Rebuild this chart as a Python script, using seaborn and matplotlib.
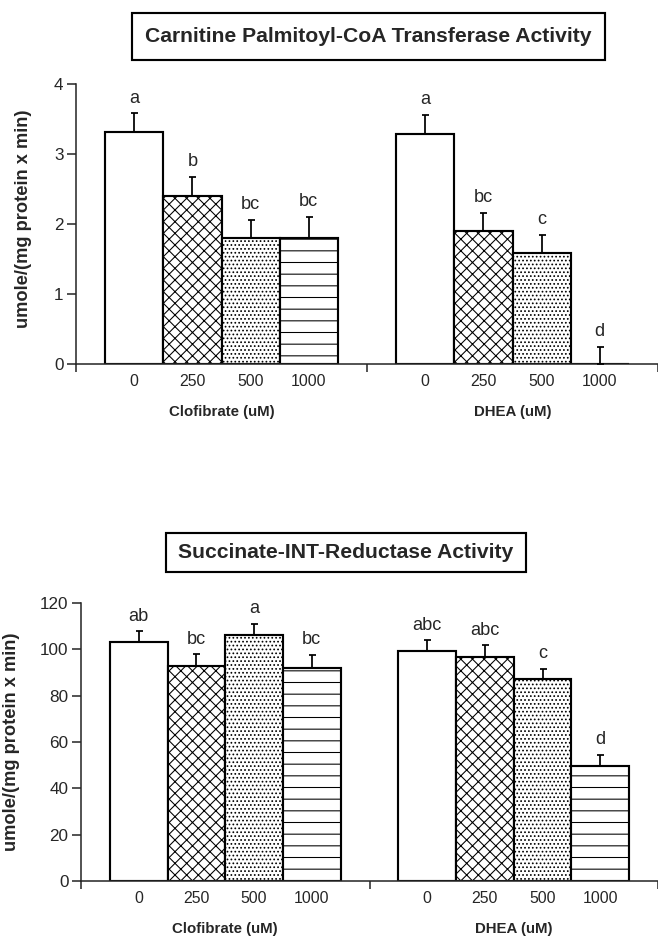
# Two enzyme activity bar charts (CPT and succinate-INT-reductase)
# clofibrate vs DHEA, redrawn with seaborn

import numpy as np
import pandas as pd
import matplotlib.pyplot as plt
from matplotlib.patches import Rectangle
import seaborn as sb

# data
conc_labels = ["0", "250", "500", "1000"]
group_labels = ["Clofibrate (uM)", "DHEA (uM)"]

cpt_mean = [3.32, 2.40, 1.80, 1.80, 3.29, 1.90, 1.59, 0.0]
cpt_err = [0.26, 0.27, 0.26, 0.30, 0.27, 0.26, 0.26, 0.25]
cpt_letters = ["a", "b", "bc", "bc", "a", "bc", "c", "d"]

sdh_mean = [103.3, 93.0, 106.3, 92.0, 99.3, 96.9, 87.1, 49.8]
sdh_err = [4.4, 4.9, 4.6, 5.6, 4.6, 4.8, 4.6, 4.8]
sdh_letters = ["ab", "bc", "a", "bc", "abc", "abc", "c", "d"]

titles = ["Carnitine Palmitoyl-CoA Transferase Activity",
          "Succinate-INT-Reductase Activity"]
ylabel = "umole/(mg protein x min)"

# fill pattern per concentration
hatches = ["", "xxxx", "......", "--"]

DPI = 140
sb.set_style("ticks")
plt.rcParams['font.family'] = ['Liberation Sans', 'DejaVu Sans']
plt.rcParams['hatch.linewidth'] = 0.55
narrow = ['Liberation Sans Narrow', 'Liberation Sans', 'DejaVu Sans']


def make_frame(means, errs):
    rows = []
    for gi, g in enumerate(group_labels):
        for ci, c in enumerate(conc_labels):
            k = gi * len(conc_labels) + ci
            rows.append({"pos": gi * 5 + ci, "group": g, "conc": c,
                         "mean": means[k], "err": errs[k]})
    return pd.DataFrame(rows)


def draw_panel(ax, df, letters, ymax, yticks):
    sb.barplot(data=df, x="pos", y="mean", native_scale=True, width=1.0,
               color="white", edgecolor="black", linewidth=1.1,
               errorbar=None, ax=ax)
    for i, bar in enumerate(ax.patches):
        bar.set_hatch(hatches[i % 4])
        bar.set_facecolor("white")
    ax.errorbar(df["pos"], df["mean"],
                yerr=[np.zeros(len(df)), df["err"]],
                fmt="none", ecolor="black", elinewidth=0.9,
                capsize=1.8, capthick=0.9, zorder=5)
    for x, top, lab in zip(df["pos"], df["mean"] + df["err"], letters):
        ax.annotate(lab, (x, top), xytext=(0, 5.5), textcoords="offset points",
                    ha="center", va="baseline", fontsize=9.3)

    ax.set_xlim(-1, 9)
    ax.set_ylim(0, ymax)
    ax.set_yticks(yticks)
    ax.set_xticks(df["pos"])
    ax.set_xticklabels([c for c in df["conc"]], fontsize=8.2)
    ax.set_xticks([-1, 4, 9], minor=True)
    ax.tick_params(axis="x", which="major", length=0, pad=5.3)
    ax.tick_params(axis="x", which="minor", length=4.2, width=0.8)
    ax.tick_params(axis="y", length=4.6, width=0.8, pad=1.8, labelsize=8.8)
    for s in ["top", "right"]:
        ax.spines[s].set_visible(False)
    for s in ["left", "bottom"]:
        ax.spines[s].set_linewidth(0.8)
    ax.set_xlabel("")
    ax.set_ylabel(ylabel, fontsize=9.4, fontweight="bold")

    # group names under the tick labels
    for gi, g in enumerate(group_labels):
        ax.annotate(g, (gi * 5 + 1.5, 0), xytext=(0, -24.5),
                    textcoords="offset points", xycoords=("data", "axes fraction"),
                    ha="center", va="center", fontsize=7.7, fontweight="bold",
                    family=narrow)


fig = plt.figure(figsize=(658 / DPI, 937 / DPI), dpi=DPI)

ax1 = fig.add_axes([76 / 658, 1 - 364 / 937, 582 / 658, 280 / 937])
draw_panel(ax1, make_frame(cpt_mean, cpt_err), cpt_letters, 4, [0, 1, 2, 3, 4])
ax1.yaxis.set_label_coords(-0.075, 0.52)

ax2 = fig.add_axes([81 / 658, 1 - 881 / 937, 577 / 658, 278 / 937])
draw_panel(ax2, make_frame(sdh_mean, sdh_err), sdh_letters, 120,
           [0, 20, 40, 60, 80, 100, 120])
ax2.yaxis.set_label_coords(-0.105, 0.5)

# boxed panel titles
for (x0, y0, x1, y1), t in zip([(132, 13, 605, 60), (166, 533, 526, 572)], titles):
    fig.add_artist(Rectangle((x0 / 658, 1 - y1 / 937), (x1 - x0) / 658,
                             (y1 - y0) / 937, transform=fig.transFigure,
                             fill=False, edgecolor="black", linewidth=1.1))
    fig.text((x0 + x1) / 2 / 658, 1 - (y0 + y1) / 2 / 937, t,
             ha="center", va="center", fontsize=10.9, fontweight="bold",
             family=narrow)

fig.savefig("out.png", dpi=DPI)
